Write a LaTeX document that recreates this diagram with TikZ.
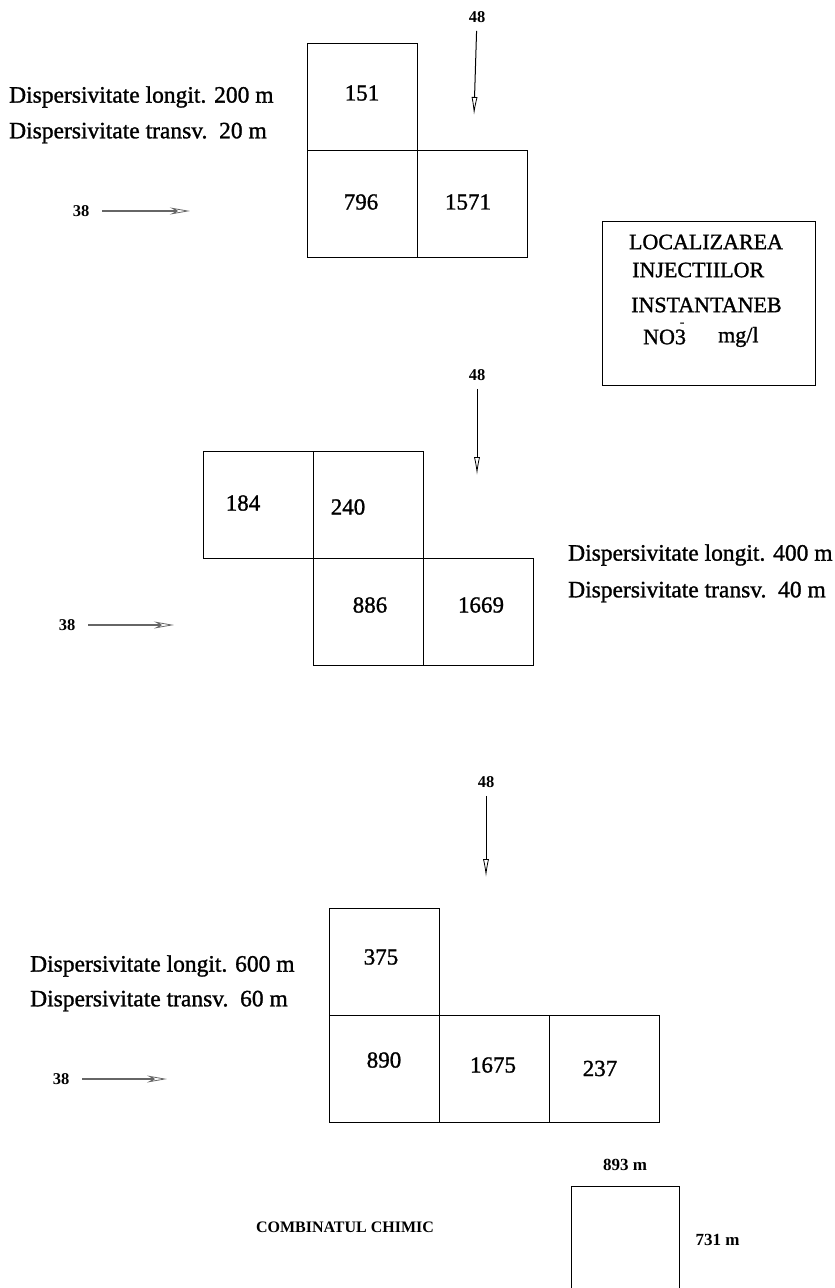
\documentclass[tikz,border=0pt]{standalone}
\usepackage{fontspec}
\setmainfont{Liberation Serif}
\newfontfamily\inkfont{Liberation Serif}[FakeBold=1.2]
\usepackage{tikz}
\usetikzlibrary{arrows.meta, positioning, calc}
\tikzstyle{gridcell} = [draw, rectangle, line width=0.9pt, minimum width=110pt, minimum height=107pt, inner sep=0pt, outer sep=0pt]
\tikzstyle{cellval} = [font=\inkfont\fontsize{23}{23}\selectfont, inner sep=0pt]
\tikzstyle{param} = [font=\inkfont\fontsize{23.5}{24}\selectfont, anchor=west, inner sep=0pt]
\tikzstyle{legendtext} = [font=\inkfont\fontsize{22}{22}\selectfont, inner sep=0pt]
\tikzstyle{tag} = [font=\bfseries\fontsize{16.5}{16.5}\selectfont, inner sep=0pt]
\tikzstyle{dimtag} = [font=\bfseries\fontsize{17}{17}\selectfont, inner sep=0pt]
\tikzstyle{drift} = [draw=black!60, line width=1.3pt, shorten <=13pt, -{Stealth[open, length=20pt, width=7pt, line width=0.8pt]}]
\tikzstyle{inflow} = [draw, line width=1pt, shorten <=8pt, -{Latex[open, length=18pt, width=6pt, line width=0.8pt]}]
\newcommand*{\nitrate}{NO\makebox[0pt][l]{\smash{\raisebox{18pt}{\hspace{5pt}\fontsize{13}{13}\selectfont -}}}3}

\begin{document}
\begin{tikzpicture}[x=1pt, y=-1pt, node distance=0pt]
    \useasboundingbox (0,0) rectangle (835,1288);

    % Cells, first case.
    \node (cellA1) [gridcell] at (362,96.5) {};
    \node (cellA2) [gridcell, below=of cellA1] {};
    \node (cellA3) [gridcell, right=of cellA2] {};

    % Cells, second case.
    \node (cellB1) [gridcell] at (258,504.5) {};
    \node (cellB2) [gridcell, right=of cellB1] {};
    \node (cellB3) [gridcell, below=of cellB2] {};
    \node (cellB4) [gridcell, right=of cellB3] {};

    % Cells, third case.
    \node (cellC1) [gridcell] at (384,961.5) {};
    \node (cellC2) [gridcell, below=of cellC1] {};
    \node (cellC3) [gridcell, right=of cellC2] {};
    \node (cellC4) [gridcell, right=of cellC3] {};

    % Concentrations.
    \foreach\c/\v/\dx/\dy in {A1/151/0/-3.5, A2/796/-1/-1.5, A3/1571/-4/-1.5,
            B1/184/-15/-1.5, B2/240/-20/2.5, B3/886/2/-6.5, B4/1669/3/-6.5,
            C1/375/-3/-4.5, C2/890/0/-8.5, C3/1675/-1/-3.5, C4/237/-4/0} {
        \node (val\c) [cellval] at ($(cell\c)+(\dx,\dy)$) {\v};
    }

    % Dispersivities.
    \node (longA) [param] at (9,97) {Dispersivitate longit. 200 m};
    \node (transA) [param] at (9,133) {Dispersivitate transv.\ \ 20 m};
    \node (longB) [param] at (568,555) {Dispersivitate longit. 400 m};
    \node (transB) [param] at (568,592) {Dispersivitate transv.\ \ 40 m};
    \node (longC) [param] at (30,966) {Dispersivitate longit. 600 m};
    \node (transC) [param] at (30,1001) {Dispersivitate transv.\ \ 60 m};

    % Flow arrows.
    \node (northA) [tag] at (477,17) {48};
    \node (northB) [tag] at (477,375) {48};
    \node (northC) [tag] at (486,782) {48};
    \coordinate (northAend) at (474,115);
    \coordinate (northBend) at (477,475);
    \coordinate (northCend) at (486,877);
    \node (westA) [tag] at (81,211) {38};
    \node (westB) [tag] at (67,625) {38};
    \node (westC) [tag] at (61,1079) {38};
    \coordinate (westAend) at (190,211);
    \coordinate (westBend) at (174,625);
    \coordinate (westCend) at (167,1079);
    \foreach\i in {A, B, C} {
        \draw [inflow] (north\i) -- (north\i end);
        \draw [drift] (west\i) -- (west\i end);
    }

    % Legend.
    \node (legend) [draw, line width=0.9pt, minimum width=213pt, minimum height=164pt, inner sep=0pt] at (708.5,303) {};
    \node (legendA) [legendtext] at (706,242) {LOCALIZAREA};
    \node (legendB) [legendtext, anchor=west] at (632,270) {INJECTIILOR};
    \node (legendC) [legendtext, anchor=west] at (631,305) {INSTANTANEB};
    \node (legendD) [legendtext, anchor=west] at (643,337) {\nitrate};
    \node (legendE) [legendtext, anchor=west] at (718,337) {mg/l};

    % Plant.
    \node (plant) [draw, line width=0.9pt, minimum width=108pt, minimum height=160pt, inner sep=0pt, anchor=north] at (625,1186) {};
    \node (plantwidth) [dimtag, above=15pt of plant] {893 m};
    \node (plantdepth) [dimtag, anchor=west] at ($(plant.north east)+(16,54)$) {731 m};
    \node (plantname) [dimtag, font=\bfseries\fontsize{16}{16}\selectfont] at (345,1227) {COMBINATUL CHIMIC};
\end{tikzpicture}
\end{document}
